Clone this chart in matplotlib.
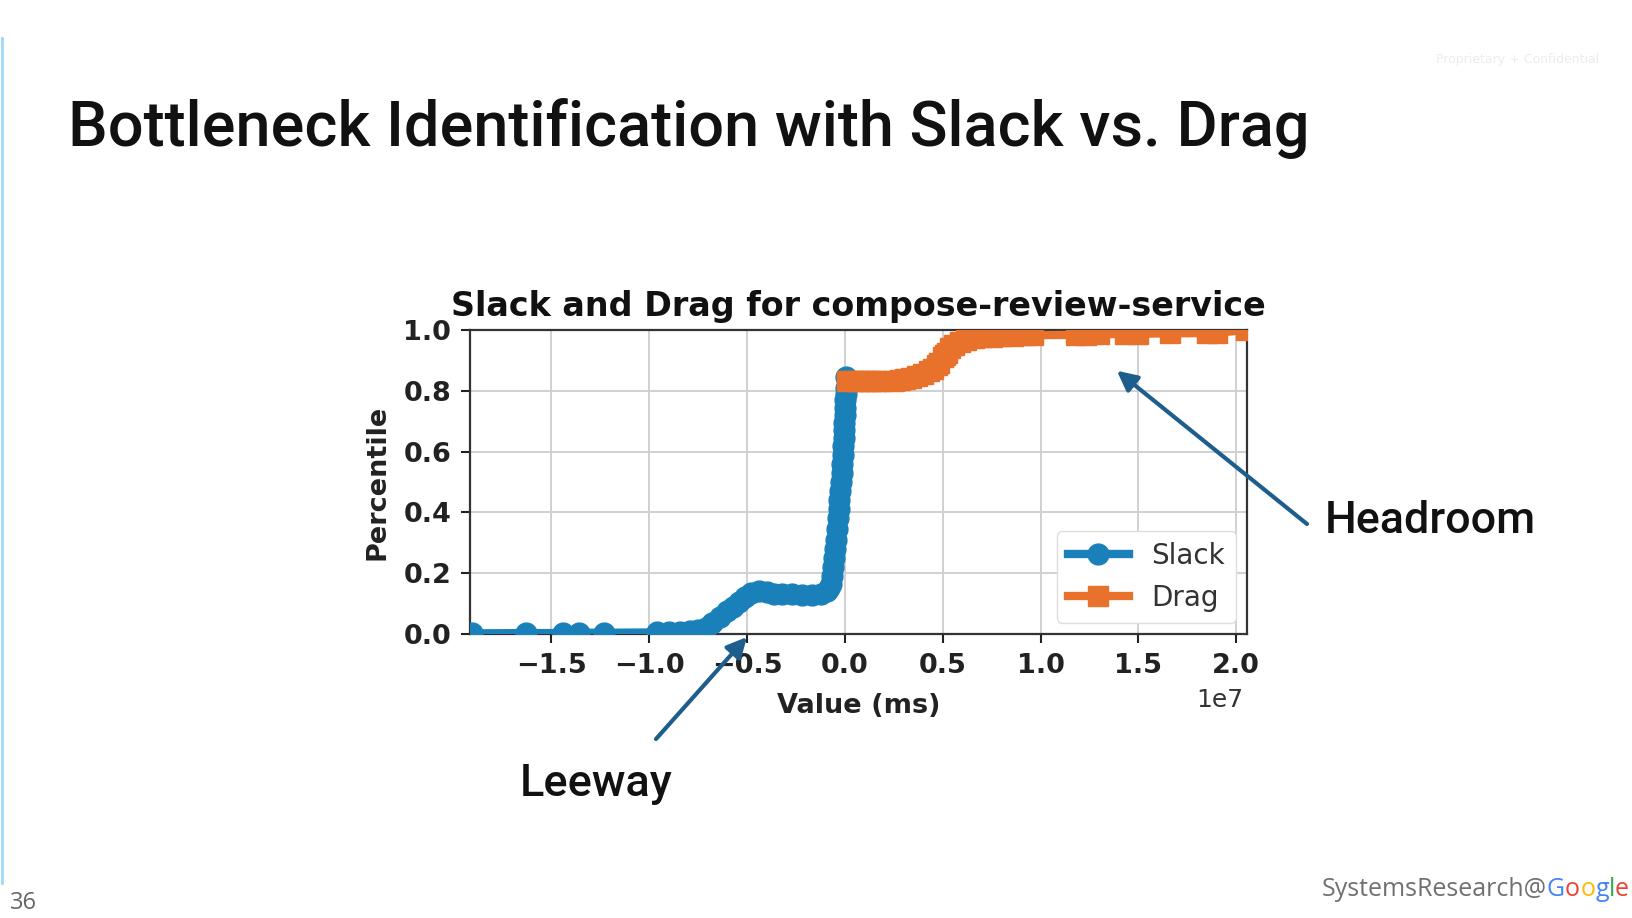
import numpy as np
import matplotlib
matplotlib.use("Agg")
import matplotlib.pyplot as plt

# Slack / Drag CDF points (x in units of 1e7 ms)
slack_x = [-1.905, -1.627, -1.44, -1.36, -1.23, -0.96, -0.90, -0.84, -0.79, -0.75,
           -0.71, -0.68, -0.64, -0.60, -0.57, -0.54, -0.51, -0.48, -0.44, -0.40,
           -0.36, -0.32, -0.27, -0.22, -0.17, -0.12, -0.09, -0.08, -0.072, -0.065,
           -0.06, -0.055, -0.05, -0.045, -0.04, -0.035, -0.031, -0.028, -0.024, -0.02,
           -0.016, -0.013, -0.01, -0.008, -0.006, -0.004, -0.002, 0.0, 0.002, 0.003,
           0.004, 0.005, 0.005]
slack_y = [0.002, 0.003, 0.003, 0.004, 0.004, 0.005, 0.006, 0.008, 0.010, 0.013,
           0.02, 0.035, 0.055, 0.075, 0.09, 0.105, 0.122, 0.135, 0.14, 0.138,
           0.132, 0.132, 0.13, 0.127, 0.128, 0.133, 0.14, 0.15, 0.165, 0.19,
           0.22, 0.25, 0.28, 0.31, 0.345, 0.38, 0.41, 0.44, 0.47, 0.50,
           0.53, 0.56, 0.59, 0.62, 0.645, 0.67, 0.695, 0.72, 0.745, 0.77,
           0.79, 0.81, 0.845]

drag_x = [0.01, 0.04, 0.07, 0.10, 0.13, 0.16, 0.19, 0.25, 0.28, 0.31,
          0.34, 0.37, 0.40, 0.43, 0.45, 0.47, 0.48, 0.50, 0.51, 0.52, 0.54, 0.56,
          0.59, 0.62, 0.66, 0.70, 0.75, 0.80, 0.86, 0.92, 0.96,
          1.18, 1.23, 1.30, 1.43, 1.50, 1.66, 1.85, 1.90, 2.05]
drag_y = [0.832, 0.833, 0.833, 0.833, 0.833, 0.833, 0.833, 0.832, 0.834, 0.838,
          0.842, 0.848, 0.855, 0.865, 0.873, 0.884, 0.893, 0.91, 0.918, 0.925, 0.94, 0.952,
          0.962, 0.968, 0.973, 0.976, 0.978, 0.980, 0.981, 0.982, 0.983,
          0.984, 0.985, 0.986, 0.987, 0.988, 0.989, 0.990, 0.991, 1.0]

x_ticks = [-1.5, -1.0, -0.5, 0.0, 0.5, 1.0, 1.5, 2.0]
y_ticks = [0.0, 0.2, 0.4, 0.6, 0.8, 1.0]

BLUE = "#1a80ba"
ORANGE = "#e8712b"
ARROW = "#1e5e8c"
SLIDE_FONT = ["Roboto", "DejaVu Sans"]
FOOT_FONT = ["Open Sans", "DejaVu Sans"]

W, H = 1632, 918
fig = plt.figure(figsize=(W / 100, H / 100), dpi=100)
fig.patch.set_facecolor("white")

# axes placed to match the slide
ax = fig.add_axes([470 / W, (H - 634) / H, 777 / W, 304 / H])
ax.plot(np.array(slack_x) * 1e7, slack_y, color=BLUE, lw=6, marker="o", ms=15,
        label="Slack", zorder=3)
ax.plot(np.array(drag_x) * 1e7, drag_y, color=ORANGE, lw=6, marker="s", ms=14,
        label="Drag", zorder=3)

ax.set_xlim(-1.915e7, 2.055e7)
ax.set_ylim(0, 1.0)
ax.set_xticks(np.array(x_ticks) * 1e7)
ax.set_yticks(y_ticks)
ax.grid(True, color="#d0d0d0", lw=1.4)
ax.set_axisbelow(True)
for s in ax.spines.values():
    s.set_linewidth(1.6)
    s.set_color("#333333")
ax.tick_params(labelsize=19.5, length=6.5, width=1.5, pad=7, colors="#222222")
for lab in ax.get_xticklabels() + ax.get_yticklabels():
    lab.set_fontweight("bold")
# scale label drawn by hand so it sits where the slide has it
ax.xaxis.get_offset_text().set_visible(False)
fig.text(1220 / W, 1 - 700 / H, "1e7", fontsize=18, color="#333333",
         ha="center", va="center")

ax.set_title("Slack and Drag for compose-review-service", fontsize=24,
             fontweight="bold", pad=10, color="#111111")
ax.set_xlabel("Value (ms)", fontsize=19.5, fontweight="bold", color="#222222",
              labelpad=10)
ax.set_ylabel("Percentile", fontsize=19.5, fontweight="bold", color="#222222",
              labelpad=9)

leg = ax.legend(loc="lower right", fontsize=20, handlelength=2.2,
                borderaxespad=0.4, framealpha=1.0, edgecolor="#dddddd")
for t in leg.get_texts():
    t.set_color("#333333")

# slide decorations
fig.text(68 / W, 1 - 146 / H, "Bottleneck Identification with Slack vs. Drag",
         fontsize=45.4, family=SLIDE_FONT, weight="medium", color="#111111",
         va="baseline")
fig.text(1599 / W, 1 - 59 / H, "Proprietary + Confidential", fontsize=9,
         color="#ececec", ha="right", va="center")
fig.add_artist(plt.Line2D([1.5 / W, 1.5 / W], [1 - 38 / H, 1 - 883 / H],
                          color="#9fd8f7", lw=2))
fig.text(10 / W, 1 - 903 / H, "36", fontsize=17, color="#666666", va="center",
         family=FOOT_FONT)

# footer: SystemsResearch@Google
foot = fig.text(1322 / W, 1 - 889 / H, "SystemsResearch@", fontsize=18,
                color="#707070", va="center", family=FOOT_FONT)
fig.canvas.draw()
x0 = foot.get_window_extent().x1
for ch, col in zip("Google", ["#4285F4", "#EA4335", "#FBBC05", "#4285F4", "#34A853", "#EA4335"]):
    t = fig.text(x0 / W, 1 - 889 / H, ch, fontsize=18, color=col, va="center",
                 family=FOOT_FONT)
    fig.canvas.draw()
    x0 = t.get_window_extent().x1

# annotations
fig.text(1325 / W, 1 - 533 / H, "Headroom", fontsize=32.3, family=SLIDE_FONT,
         weight="medium", color="#111111", va="baseline")
fig.text(520 / W, 1 - 796 / H, "Leeway", fontsize=32.5, family=SLIDE_FONT,
         weight="medium", color="#111111", va="baseline")
arrow = dict(arrowstyle="-|>,head_length=1.2,head_width=0.6", color=ARROW, lw=3,
             shrinkA=0, shrinkB=0)
ax.annotate("", xy=(1.39e7, 0.866), xycoords="data",
            xytext=(1307, H - 524), textcoords="figure pixels",
            arrowprops=arrow, annotation_clip=False)
ax.annotate("", xy=(-0.5e7, -0.01), xycoords="data",
            xytext=(656, H - 739), textcoords="figure pixels",
            arrowprops=arrow, annotation_clip=False)

fig.savefig("out.png", dpi=100)
